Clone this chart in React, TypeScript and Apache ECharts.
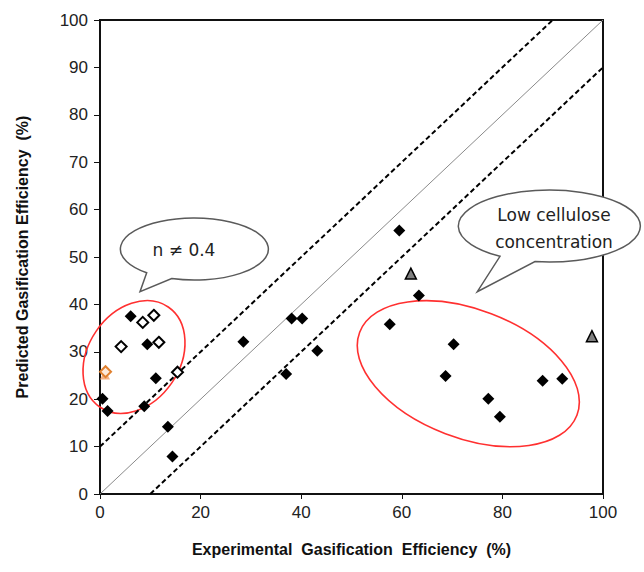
import React, { useEffect, useRef } from 'react';
import * as echarts from 'echarts';

// ---- data ----
const xTickStep = 20;
const yTickStep = 10;
const axisMin = 0;
const axisMax = 100;

// experimental (x) vs predicted (y) gasification efficiency, %
const filledDiamonds: number[][] = [
  [0.5, 20.1], [1.5, 17.5], [6.1, 37.5], [9.4, 31.6], [11.1, 24.4],
  [8.8, 18.5], [13.5, 14.2], [14.4, 7.9], [28.5, 32.1], [38.1, 37.0],
  [40.2, 37.0], [43.2, 30.2], [37.0, 25.3], [59.5, 55.6], [63.4, 41.9],
  [57.6, 35.8], [70.3, 31.6], [68.7, 24.9], [77.2, 20.1], [79.5, 16.3],
  [88.0, 23.9], [91.9, 24.3],
];
const openDiamonds: number[][] = [
  [8.5, 36.2], [10.7, 37.7], [4.2, 31.1], [11.7, 32.0], [15.4, 25.7],
];
const orangeTriangle: number[][] = [[1.0, 25.2]];
const orangeDiamond: number[][] = [[1.1, 25.8]];
const grayTriangles: number[][] = [[61.8, 46.5], [97.8, 33.3]];

const parityLine: number[][] = [[0, 0], [100, 100]];
const upperBand: number[][] = [[0, 10], [90, 100]];
const lowerBand: number[][] = [[10, 0], [100, 90]];

const xAxisTitle = 'Experimental\u00a0 Gasification\u00a0 Efficiency\u00a0 (%)';
const yAxisTitle = 'Predicted Gasification Efficiency\u00a0 (%)';
const calloutLeftText = 'n \u2260 0.4';
const calloutRightText = 'Low cellulose\nconcentration';

// ---- callout shapes (speech bubbles) ----
echarts.graphic.registerShape(
  'calloutLeft',
  echarts.graphic.extendPath('M 171.7 278.6 A 74 31 0 1 0 146.7 272.8 L 140 291.7 Z', {})
);
echarts.graphic.registerShape(
  'calloutRight',
  echarts.graphic.extendPath('M 535 261.6 A 91 36 0 1 0 500 256.3 L 477.3 291.7 Z', {})
);

const FONT = "'Liberation Sans', Arial, sans-serif";
const CALLOUT_FONT = "'DejaVu Sans', sans-serif";

export default function App() {
  const ref = useRef<HTMLDivElement>(null);

  useEffect(() => {
    if (!ref.current) return;
    const chart = echarts.init(ref.current, undefined, { renderer: 'svg' });

    const option: any = {
      animation: false,
      backgroundColor: '#fff',
      grid: {
        left: 100,
        right: 41,
        top: 20,
        bottom: 78,
        containLabel: false,
        outerBoundsMode: 'none',
        show: true,
        borderColor: '#111',
        borderWidth: 2,
        backgroundColor: 'transparent',
      },
      xAxis: {
        type: 'value',
        min: axisMin,
        max: axisMax,
        interval: xTickStep,
        name: xAxisTitle,
        nameLocation: 'middle',
        nameGap: 47,
        nameTextStyle: { fontFamily: FONT, fontWeight: 'bold', fontSize: 16, color: '#111' },
        axisLine: { show: true, lineStyle: { color: '#111', width: 2 } },
        axisTick: { show: true, inside: false, length: 5, lineStyle: { color: '#111', width: 1 } },
        axisLabel: { fontFamily: FONT, fontSize: 17, color: '#222', margin: 10 },
        splitLine: { show: false },
      },
      yAxis: {
        type: 'value',
        min: axisMin,
        max: axisMax,
        interval: yTickStep,
        name: yAxisTitle,
        nameLocation: 'middle',
        nameRotate: 90,
        nameGap: 70,
        nameTextStyle: { fontFamily: FONT, fontWeight: 'bold', fontSize: 16, color: '#111' },
        axisLine: { show: true, lineStyle: { color: '#111', width: 2 } },
        axisTick: { show: true, inside: false, length: 6, lineStyle: { color: '#111', width: 1 } },
        axisLabel: { fontFamily: FONT, fontSize: 17, color: '#222', margin: 12 },
        splitLine: { show: false },
      },
      series: [
        {
          type: 'line',
          data: parityLine,
          symbol: 'none',
          lineStyle: { color: '#8a8a8a', width: 1 },
          z: 1,
        },
        {
          type: 'line',
          data: upperBand,
          symbol: 'none',
          lineStyle: { color: '#000', width: 2, type: [5, 3] },
          z: 1,
        },
        {
          type: 'line',
          data: lowerBand,
          symbol: 'none',
          lineStyle: { color: '#000', width: 2, type: [5, 3] },
          z: 1,
        },
        {
          type: 'scatter',
          data: filledDiamonds,
          symbol: 'diamond',
          symbolSize: 12,
          itemStyle: { color: '#000', opacity: 1 },
          z: 3,
        },
        {
          type: 'scatter',
          data: openDiamonds,
          symbol: 'diamond',
          symbolSize: 11,
          itemStyle: { color: '#fff', borderColor: '#000', borderWidth: 2, opacity: 1 },
          z: 3,
        },
        {
          type: 'scatter',
          data: orangeTriangle,
          symbol: 'triangle',
          symbolSize: 10,
          itemStyle: { color: '#f4b183', opacity: 1 },
          z: 3,
        },
        {
          type: 'scatter',
          data: orangeDiamond,
          symbol: 'diamond',
          symbolSize: 11,
          itemStyle: { color: '#fde9d9', borderColor: '#e0802f', borderWidth: 2, opacity: 1 },
          z: 4,
        },
        {
          type: 'scatter',
          data: grayTriangles,
          symbol: 'triangle',
          symbolSize: 11,
          itemStyle: { color: '#808080', borderColor: '#000', borderWidth: 1.5, opacity: 1 },
          z: 3,
        },
      ],
      graphic: [
        {
          type: 'ellipse',
          x: 134,
          y: 357,
          rotation: (55.6 * Math.PI) / 180,
          shape: { cx: 0, cy: 0, rx: 60.6, ry: 45.8 },
          style: { fill: 'none', stroke: '#ff3030', lineWidth: 1.6 },
          z: 1,
        },
        {
          type: 'ellipse',
          x: 468.3,
          y: 373.7,
          rotation: (-20.9 * Math.PI) / 180,
          shape: { cx: 0, cy: 0, rx: 116.3, ry: 64.2 },
          style: { fill: 'none', stroke: '#ff3030', lineWidth: 1.6 },
          z: 1,
        },
        {
          type: 'calloutLeft',
          x: 0,
          y: 0,
          style: { fill: '#fff', stroke: '#5a5a5a', lineWidth: 1.5 },
          z: 100,
        },
        {
          type: 'text',
          x: 184,
          y: 250,
          style: {
            text: calloutLeftText,
            fontFamily: CALLOUT_FONT,
            fontSize: 17,
            fill: '#222',
            align: 'center',
            verticalAlign: 'middle',
          },
          z: 101,
        },
        {
          type: 'calloutRight',
          x: 0,
          y: 0,
          style: { fill: '#fff', stroke: '#5a5a5a', lineWidth: 1.5 },
          z: 100,
        },
        {
          type: 'text',
          x: 554,
          y: 228,
          style: {
            text: calloutRightText,
            fontFamily: CALLOUT_FONT,
            fontSize: 17,
            lineHeight: 27,
            fill: '#222',
            align: 'center',
            verticalAlign: 'middle',
          },
          z: 101,
        },
      ],
    };

    chart.setOption(option);
    return () => chart.dispose();
  }, []);

  return (
    <div
      ref={ref}
      style={{ position: 'fixed', left: 0, top: 0, width: 644, height: 572, background: '#fff' }}
    />
  );
}
